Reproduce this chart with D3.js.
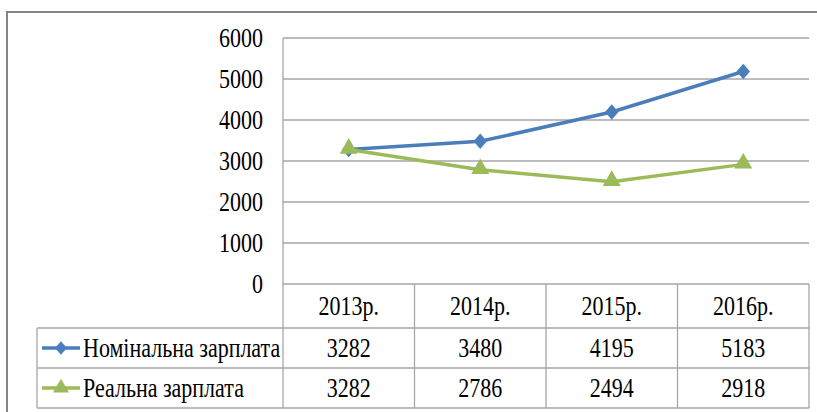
<!DOCTYPE html>
<html>
<head>
<meta charset="utf-8">
<script src="https://cdn.jsdelivr.net/npm/d3@7"></script>
<style>
  body { margin: 0; background: #fff; }
</style>
</head>
<body>
<svg id="chart" width="817" height="412"></svg>
<script>
var years = ['2013р.', '2014р.', '2015р.', '2016р.'];
var nominal = [3282, 3480, 4195, 5183];
var real = [3282, 2786, 2494, 2918];
var yTicks = [0, 1000, 2000, 3000, 4000, 5000, 6000];
var seriesNames = ['Номінальна зарплата', 'Реальна зарплата'];

var blue = '#4a7ebb';
var green = '#9bbb59';
var grid = '#a6a6a6';

var svg = d3.select('#chart');

var plotLeft = 283, plotRight = 809, plotTop = 38, plotBottom = 284;
var rowH = [44, 40, 40];

var x = d3.scaleBand().domain(years).range([plotLeft, plotRight]);
var y = d3.scaleLinear().domain([0, 6000]).range([plotBottom, plotTop]);

// outer frame
svg.append('path')
    .attr('d', 'M7,420 L7,12 L830,12')
    .attr('fill', 'none')
    .attr('stroke', '#858585')
    .attr('stroke-width', 2);

// stretched serif text helper
function label(g, tx, ty, str, anchor) {
    return g.append('text')
        .attr('transform', 'translate(' + tx + ',' + ty + ') scale(1,1.2)')
        .attr('text-anchor', anchor)
        .attr('dy', '0.35em')
        .attr('font-family', 'Liberation Serif')
        .attr('font-size', 22)
        .attr('fill', '#000')
        .text(str);
}

// gridlines
svg.selectAll('.grid')
    .data(yTicks)
    .enter().append('line')
    .attr('class', 'grid')
    .attr('x1', plotLeft)
    .attr('x2', plotRight)
    .attr('y1', function(d) { return y(d); })
    .attr('y2', function(d) { return y(d); })
    .attr('stroke', grid)
    .attr('stroke-width', 1.3);

// y tick labels
yTicks.forEach(function(d) {
    label(svg, 263, y(d), d, 'end');
});

// table
var tableTop = plotBottom;
var r1 = tableTop + rowH[0];
var r2 = r1 + rowH[1];
var r3 = r2 + rowH[2];
var legendLeft = 37;

var table = svg.append('g').attr('stroke', grid).attr('stroke-width', 1.3);

table.append('line').attr('x1', plotLeft).attr('x2', plotLeft).attr('y1', plotTop).attr('y2', r3);
years.forEach(function(d) {
    table.append('line')
        .attr('x1', x(d) + x.bandwidth()).attr('x2', x(d) + x.bandwidth())
        .attr('y1', tableTop).attr('y2', r3);
});
[r1, r2, r3].forEach(function(ry) {
    table.append('line').attr('x1', legendLeft).attr('x2', plotRight).attr('y1', ry).attr('y2', ry);
});
table.append('line').attr('x1', legendLeft).attr('x2', legendLeft).attr('y1', r1).attr('y2', r3);

// header
years.forEach(function(d) {
    label(svg, x(d) + x.bandwidth() / 2, (tableTop + r1) / 2, d, 'middle');
});

// data cells
var rows = [nominal, real];
var rowMid = [(r1 + r2) / 2, (r2 + r3) / 2];
rows.forEach(function(vals, i) {
    vals.forEach(function(v, j) {
        label(svg, x(years[j]) + x.bandwidth() / 2, rowMid[i], v, 'middle');
    });
});

// lines
var line = d3.line()
    .x(function(d, i) { return x(years[i]) + x.bandwidth() / 2; })
    .y(function(d) { return y(d); });

function drawSeries(vals, color, sym, rot) {
    svg.append('path')
        .datum(vals)
        .attr('d', line)
        .attr('fill', 'none')
        .attr('stroke', color)
        .attr('stroke-width', 3.5);

    svg.selectAll(null)
        .data(vals)
        .enter().append('path')
        .attr('d', sym)
        .attr('fill', color)
        .attr('transform', function(d, i) {
            return 'translate(' + (x(years[i]) + x.bandwidth() / 2) + ',' + y(d) + ')' + rot;
        });
}

drawSeries(nominal, blue, d3.symbol().type(d3.symbolSquare).size(90), ' scale(1,1.15) rotate(45)');
drawSeries(real, green, d3.symbol().type(d3.symbolTriangle).size(140), ' translate(0,-1)');

// legend keys in table
var keys = [
    { color: blue, sym: d3.symbol().type(d3.symbolSquare).size(70), rot: ' scale(1,1.15) rotate(45)' },
    { color: green, sym: d3.symbol().type(d3.symbolTriangle).size(110), rot: '' }
];
keys.forEach(function(k, i) {
    svg.append('line')
        .attr('x1', 42).attr('x2', 80)
        .attr('y1', rowMid[i]).attr('y2', rowMid[i])
        .attr('stroke', k.color)
        .attr('stroke-width', 3.5);
    svg.append('path')
        .attr('d', k.sym)
        .attr('fill', k.color)
        .attr('transform', 'translate(61,' + rowMid[i] + ')' + k.rot);
    label(svg, 83, rowMid[i], seriesNames[i], 'start');
});
</script>
</body>
</html>
